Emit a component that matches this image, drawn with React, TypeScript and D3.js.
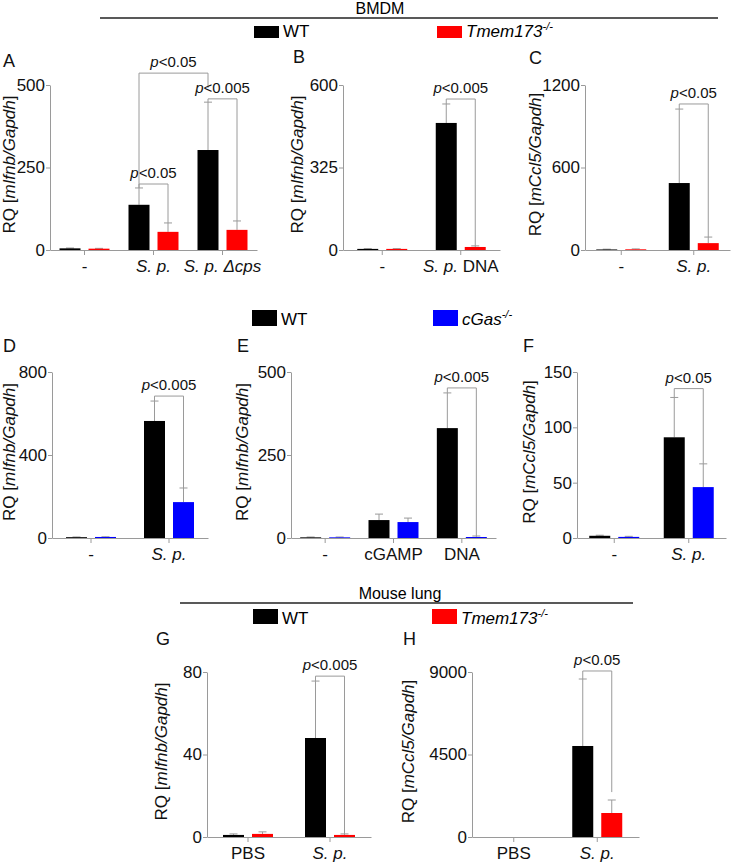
import React, { useRef, useEffect } from "react";
import * as d3 from "d3";

const W = 733;
const H = 868;
const FONT = "'Liberation Sans', Arial, sans-serif";
const GRAY = "#9a9a9a";

// BMDM, WT vs Tmem173-/-
const groupsA = ["-", "S. p.", "S. p. Δcps"];
const wtA = [5, 137, 303];
const wtErrA = [1, 51, 145];
const koA = [4, 55, 61];
const koErrA = [1, 27, 27];
const ticksA = [0, 250, 500];

const groupsB = ["-", "S. p. DNA"];
const wtB = [4, 462];
const wtErrB = [1, 69];
const koB = [4, 11];
const koErrB = [1, 4];
const ticksB = [0, 300, 600];
const tickLabelsB = ["0", "325", "600"];

const groupsC = ["-", "S. p."];
const wtC = [4, 487];
const wtErrC = [2, 538];
const koC = [5, 50];
const koErrC = [3, 44];
const ticksC = [0, 600, 1200];

// BMDM, WT vs cGas-/-
const groupsD = ["-", "S. p."];
const wtD = [4, 564];
const wtErrD = [1, 96];
const koD = [5, 173];
const koErrD = [1, 68];
const ticksD = [0, 400, 800];

const groupsE = ["-", "cGAMP", "DNA"];
const wtE = [2, 54, 331];
const wtErrE = [1, 18, 106];
const koE = [2, 48, 3];
const koErrE = [1, 12, 3];
const ticksE = [0, 250, 500];

const groupsF = ["-", "S. p."];
const wtF = [2, 91];
const wtErrF = [0.5, 36];
const koF = [1, 46];
const koErrF = [0.5, 21];
const ticksF = [0, 50, 100, 150];

// Mouse lung
const groupsG = ["PBS", "S. p."];
const wtG = [1, 48];
const wtErrG = [0.5, 27.6];
const koG = [1.5, 1];
const koErrG = [1, 0.5];
const ticksG = [0, 40, 80];

const groupsH = ["PBS", "S. p."];
const wtH = [0, 4964];
const wtErrH = [0, 3654];
const koH = [0, 1309];
const koErrH = [0, 709];
const ticksH = [0, 4500, 9000];

const italicTokens = ["S.", "p.", "Δcps"];

const panels = [
  { id: "A", groups: groupsA, wt: wtA, wtErr: wtErrA, ko: koA, koErr: koErrA, ticks: ticksA,
    gene: "mIfnb/Gapdh", color: "#ff0000", x0: 50, x1: 257, y0: 250, y1: 85, lx: 3, ly: 67, off: 35,
    brackets: [
      { a: [1, 0], b: [1, 1], level: 200, text: "<0.05" },
      { a: [1, 0], b: [2, 0], level: 536, text: "<0.05", bEnd: 491 },
      { a: [2, 0], b: [2, 1], level: 458, text: "<0.005" },
    ] },
  { id: "B", groups: groupsB, wt: wtB, wtErr: wtErrB, ko: koB, koErr: koErrB, ticks: ticksB, tickLabels: tickLabelsB,
    gene: "mIfnb/Gapdh", color: "#ff0000", x0: 343, x1: 500, y0: 250, y1: 85, lx: 293, ly: 63, off: 40,
    brackets: [{ a: [1, 0], b: [1, 1], level: 549, text: "<0.005" }] },
  { id: "C", groups: groupsC, wt: wtC, wtErr: wtErrC, ko: koC, koErr: koErrC, ticks: ticksC,
    gene: "mCcl5/Gapdh", color: "#ff0000", x0: 585, x1: 730, y0: 250, y1: 85, lx: 529, ly: 64, off: 44,
    brackets: [{ a: [1, 0], b: [1, 1], level: 1062, text: "<0.05" }] },
  { id: "D", groups: groupsD, wt: wtD, wtErr: wtErrD, ko: koD, koErr: koErrD, ticks: ticksD,
    gene: "mIfnb/Gapdh", color: "#0000ff", x0: 52, x1: 208, y0: 538, y1: 372, lx: 3, ly: 352, off: 37,
    brackets: [{ a: [1, 0], b: [1, 1], level: 684, text: "<0.005" }] },
  { id: "E", groups: groupsE, wt: wtE, wtErr: wtErrE, ko: koE, koErr: koErrE, ticks: ticksE,
    gene: "mIfnb/Gapdh", color: "#0000ff", x0: 291, x1: 496, y0: 538, y1: 372, lx: 237, ly: 352, off: 43,
    brackets: [{ a: [2, 0], b: [2, 1], level: 452, text: "<0.005" }] },
  { id: "F", groups: groupsF, wt: wtF, wtErr: wtErrF, ko: koF, koErr: koErrF, ticks: ticksF,
    gene: "mCcl5/Gapdh", color: "#0000ff", x0: 577, x1: 726, y0: 538, y1: 372, lx: 523, ly: 352, off: 42,
    brackets: [{ a: [1, 0], b: [1, 1], level: 135, text: "<0.05" }] },
  { id: "G", groups: groupsG, wt: wtG, wtErr: wtErrG, ko: koG, koErr: koErrG, ticks: ticksG,
    gene: "mIfnb/Gapdh", color: "#ff0000", x0: 207, x1: 371, y0: 837, y1: 672, lx: 156, ly: 645, off: 40,
    brackets: [{ a: [1, 0], b: [1, 1], level: 78, text: "<0.005" }] },
  { id: "H", groups: groupsH, wt: wtH, wtErr: wtErrH, ko: koH, koErr: koErrH, ticks: ticksH,
    gene: "mCcl5/Gapdh", color: "#ff0000", x0: 472, x1: 639, y0: 837, y1: 672, lx: 403, ly: 645, off: 58,
    brackets: [{ a: [1, 0], b: [1, 1], level: 9055, text: "<0.05", bEnd: 2450 }] },
];

const legends = [
  { title: "BMDM", tx: 380, ty: 14, line: [100, 718, 18], sy: 26, sh: 12, wtX: 254, koX: 437, base: 37, ko: "Tmem173", color: "#ff0000" },
  { title: null, sy: 310, sh: 16, wtX: 252, koX: 433, base: 325, ko: "cGas", color: "#0000ff" },
  { title: "Mouse lung", tx: 400, ty: 599, line: [180, 633, 603], sy: 609, sh: 15, wtX: 253, koX: 432, base: 624, ko: "Tmem173", color: "#ff0000" },
];

const App = () => {
  const ref = useRef(null);

  useEffect(() => {
    d3.select(ref.current).select("svg").remove();
    const svg = d3
      .select(ref.current)
      .append("svg")
      .attr("width", W)
      .attr("height", H)
      .style("position", "absolute")
      .style("left", "0px")
      .style("top", "0px")
      .style("background", "#fff")
      .style("font-family", FONT);

    // legends
    legends.forEach((lg) => {
      if (lg.title) {
        svg.append("text").attr("x", lg.tx).attr("y", lg.ty).attr("text-anchor", "middle")
          .attr("font-size", 16).text(lg.title);
        svg.append("line").attr("x1", lg.line[0]).attr("x2", lg.line[1])
          .attr("y1", lg.line[2]).attr("y2", lg.line[2]).attr("stroke", "#222").attr("stroke-width", 1.3);
      }
      svg.append("rect").attr("x", lg.wtX).attr("y", lg.sy).attr("width", 25).attr("height", lg.sh).attr("fill", "#000");
      svg.append("text").attr("x", lg.wtX + 29).attr("y", lg.base).attr("font-size", 17).text("WT");
      svg.append("rect").attr("x", lg.koX).attr("y", lg.sy).attr("width", 25).attr("height", lg.sh).attr("fill", lg.color);
      const t = svg.append("text").attr("x", lg.koX + 29).attr("y", lg.base).attr("font-size", 17).attr("font-style", "italic");
      t.append("tspan").text(lg.ko);
      t.append("tspan").attr("font-size", 11).attr("dy", -7).text("-/-");
    });

    panels.forEach((p) => {
      const g = svg.append("g");
      const top = p.ticks[p.ticks.length - 1];
      const y = d3.scaleLinear().domain([0, top]).range([p.y0, p.y1]);
      const x = d3.scaleBand().domain(p.groups).range([p.x0, p.x1]).padding(0);
      const inner = d3.scaleBand().domain(["wt", "ko"]).range([0, 58]).paddingInner(0.276).paddingOuter(0.138);
      const cx = (gi, s) => x(p.groups[gi]) + x.bandwidth() / 2 - 29 + inner(s) + inner.bandwidth() / 2;

      const series = [
        { key: "wt", vals: p.wt, errs: p.wtErr, color: "#000" },
        { key: "ko", vals: p.ko, errs: p.koErr, color: p.color },
      ];

      // error bars first, behind bars
      series.forEach((s) => {
        s.vals.forEach((v, i) => {
          if (s.errs[i] <= 0) return;
          const c = cx(i, s.key);
          g.append("line").attr("x1", c).attr("x2", c).attr("y1", y(v)).attr("y2", y(v + s.errs[i]))
            .attr("stroke", GRAY).attr("stroke-width", 1);
          g.append("line").attr("x1", c - 4).attr("x2", c + 4).attr("y1", y(v + s.errs[i])).attr("y2", y(v + s.errs[i]))
            .attr("stroke", GRAY).attr("stroke-width", 1);
        });
      });

      series.forEach((s) => {
        g.selectAll(null)
          .data(s.vals)
          .enter()
          .append("rect")
          .attr("x", (d, i) => cx(i, s.key) - inner.bandwidth() / 2)
          .attr("width", inner.bandwidth())
          .attr("y", (d) => y(d))
          .attr("height", (d) => Math.max(0, p.y0 - y(d)))
          .attr("fill", s.color);
      });

      // axes
      const yAxis = d3.axisLeft(y).tickValues(p.ticks).tickSize(4).tickSizeOuter(0).tickPadding(1)
        .tickFormat((d, i) => (p.tickLabels ? p.tickLabels[i] : String(d)));
      const ya = g.append("g").attr("transform", `translate(${p.x0},0)`).call(yAxis);
      ya.selectAll("path, line").attr("stroke", GRAY);
      ya.selectAll("text").attr("font-size", 17).attr("font-family", FONT).attr("fill", "#111");

      const xAxis = d3.axisBottom(x).tickSize(5).tickSizeOuter(0).tickFormat(() => "");
      const xa = g.append("g").attr("transform", `translate(0,${p.y0})`).call(xAxis);
      xa.selectAll("path, line").attr("stroke", GRAY);

      p.groups.forEach((lab) => {
        const t = g.append("text").attr("x", x(lab) + x.bandwidth() / 2).attr("y", p.y0 + 22)
          .attr("text-anchor", "middle").attr("font-size", 17).attr("fill", "#111");
        lab.split(" ").forEach((tok, k) => {
          t.append("tspan").attr("font-style", italicTokens.includes(tok) ? "italic" : "normal")
            .text((k > 0 ? " " : "") + tok);
        });
      });

      // y label
      const yl = g.append("text")
        .attr("transform", `translate(${p.x0 - p.off},${(p.y0 + p.y1) / 2 - 3}) rotate(-90)`)
        .attr("text-anchor", "middle").attr("font-size", 17).attr("fill", "#111");
      yl.append("tspan").text("RQ [");
      yl.append("tspan").attr("font-style", "italic").text(p.gene);
      yl.append("tspan").text("]");

      // panel letter
      g.append("text").attr("x", p.lx).attr("y", p.ly).attr("font-size", 18).attr("fill", "#111").text(p.id);

      // significance brackets
      p.brackets.forEach((b) => {
        const sk = ["wt", "ko"];
        const ax = cx(b.a[0], sk[b.a[1]]);
        const bx = cx(b.b[0], sk[b.b[1]]);
        const aSer = b.a[1] === 0 ? series[0] : series[1];
        const bSer = b.b[1] === 0 ? series[0] : series[1];
        const aEnd = aSer.vals[b.a[0]] + aSer.errs[b.a[0]];
        const bEnd = b.bEnd !== undefined ? b.bEnd : bSer.vals[b.b[0]] + bSer.errs[b.b[0]];
        const ly = y(b.level);
        const path = d3.path();
        path.moveTo(ax, y(aEnd));
        path.lineTo(ax, ly);
        path.lineTo(bx, ly);
        path.lineTo(bx, y(bEnd));
        g.append("path").attr("d", path.toString()).attr("fill", "none").attr("stroke", GRAY).attr("stroke-width", 1);
        const t = g.append("text").attr("x", (ax + bx) / 2).attr("y", ly - 6)
          .attr("text-anchor", "middle").attr("font-size", 15).attr("fill", "#111");
        t.append("tspan").attr("font-style", "italic").text("p");
        t.append("tspan").text(b.text);
      });
    });
  }, []);

  return <div ref={ref}></div>;
};

export default App;
